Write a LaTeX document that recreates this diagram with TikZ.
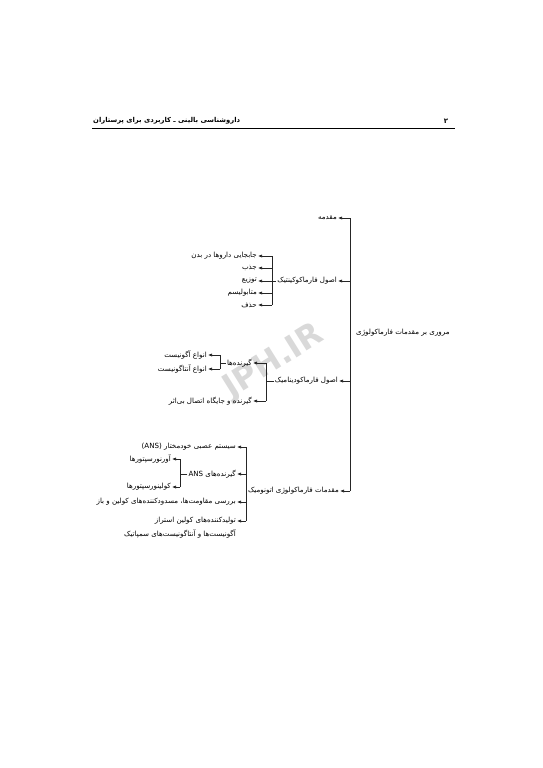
\documentclass[tikz,border=0pt]{standalone}
\usepackage{fontspec}
\usetikzlibrary{arrows.meta}
\newfontfamily\fa[Script=Arabic]{DejaVu Sans}
\newfontfamily\wmfont{DejaVu Sans}
\TeXXeTstate=1
\tikzset{
	lbl/.style={anchor=east, inner sep=1pt, font=\fa\fontsize{7.1}{8}\selectfont},
	tree/.style={line width=0.7pt, draw=black!85},
	arr/.style={tree, -{Latex[length=4pt,width=3.2pt]}},
}
\begin{document}
\begin{tikzpicture}[x=1pt,y=-1pt]
				\useasboundingbox (0,0) rectangle (543,768);
				\node[rotate=32, text=black!15, font=\wmfont\bfseries\fontsize{32}{32}\selectfont] (wm) at (274,362) {JPH.IR};
				\node[anchor=west, inner sep=0pt, font=\fa\bfseries\fontsize{6.8}{8}\selectfont] (head) at (93,121) {\beginR داروشناسی بالینی ـ کاربردی برای پرستاران\endR};
				\node[inner sep=0pt, font=\fa\bfseries\fontsize{7}{8}\selectfont] (page) at (446,121) {\beginR ۲\endR};
				\coordinate (rl) at (92,128);
				\coordinate (rr) at (455,128);
				\draw[line width=0.8pt] (rl) -- (rr);
				\coordinate (m1) at (350,218);
				\coordinate (m2) at (350,281);
				\coordinate (m3) at (350,381);
				\coordinate (m4) at (350,491);
				\coordinate (k0) at (272,281);
				\coordinate (k1) at (272,256);
				\coordinate (k2) at (272,268);
				\coordinate (k3) at (272,281);
				\coordinate (k4) at (272,293);
				\coordinate (k5) at (272,305);
				\coordinate (d0) at (266,381);
				\coordinate (d1) at (266,363);
				\coordinate (d2) at (266,401);
				\coordinate (r0) at (220,363);
				\coordinate (r1) at (220,355);
				\coordinate (r2) at (220,369);
				\coordinate (u0) at (246,491);
				\coordinate (u1) at (246,447);
				\coordinate (u2) at (246,474);
				\coordinate (u3) at (246,502);
				\coordinate (u4) at (246,521);
				\coordinate (s0) at (180,474);
				\coordinate (s1) at (180,459);
				\coordinate (s2) at (180,487);
				\node[lbl, anchor=west] (root) at (355,333) {\beginR مروری بر مقدمات فارماکولوژی\endR};
				\node[lbl] (intro) at (338,218) {\beginR مقدمه\endR};
				\node[lbl] (kin) at (338,281) {\beginR اصول فارماکوکینتیک\endR};
				\node[lbl] (dyn) at (339,381) {\beginR اصول فارماکودینامیک\endR};
				\node[lbl] (aut) at (340,491) {\beginR مقدمات فارماکولوژی اتونومیک\endR};
				\node[lbl] (kc1) at (258,256) {\beginR جابجایی داروها در بدن\endR};
				\node[lbl] (kc2) at (258,268) {\beginR جذب\endR};
				\node[lbl] (kc3) at (258,281) {\beginR توزیع\endR};
				\node[lbl] (kc4) at (258,293) {\beginR متابولیسم\endR};
				\node[lbl] (kc5) at (258,305) {\beginR حذف\endR};
				\node[lbl] (rec) at (253,363) {\beginR گیرنده‌ها\endR};
				\node[lbl] (spare) at (253,401) {\beginR گیرنده و جایگاه اتصال بی‌اثر\endR};
				\node[lbl] (ago) at (208,355) {\beginR انواع آگونیست\endR};
				\node[lbl] (anta) at (208,369) {\beginR انواع آنتاگونیست\endR};
				\node[lbl] (ans) at (237,447) {\beginR سیستم عصبی خودمختار \beginL(ANS)\endL\endR};
				\node[lbl] (ansr) at (237,474) {\beginR گیرنده‌های \beginL ANS\endL\endR};
				\node[lbl] (res) at (237,502) {\beginR بررسی مقاومت‌ها، مسدودکننده‌های کولین و باز\endR};
				\node[lbl] (chol) at (237,521) {\beginR تولیدکننده‌های کولین استراز\endR};
				\node[lbl] (symp) at (237,534) {\beginR آگونیست‌ها و آنتاگونیست‌های سمپاتیک\endR};
				\node[lbl] (adr) at (172,459) {\beginR آورنورسپتورها\endR};
				\node[lbl] (cho) at (172,487) {\beginR کولینورسپتورها\endR};
				\draw[tree] (m1) -- (m4);
				\draw[arr] (m1) -- (intro.east);
				\draw[arr] (m2) -- (kin.east);
				\draw[arr] (m3) -- (dyn.east);
				\draw[arr] (m4) -- (aut.east);
				\draw[tree] (kin.west) -- (k0);
				\draw[tree] (k1) -- (k5);
				\draw[arr] (k1) -- (kc1.east);
				\draw[arr] (k2) -- (kc2.east);
				\draw[arr] (k3) -- (kc3.east);
				\draw[arr] (k4) -- (kc4.east);
				\draw[arr] (k5) -- (kc5.east);
				\draw[tree] (dyn.west) -- (d0);
				\draw[tree] (d1) -- (d2);
				\draw[arr] (d1) -- (rec.east);
				\draw[arr] (d2) -- (spare.east);
				\draw[tree] (rec.west) -- (r0);
				\draw[tree] (r1) -- (r2);
				\draw[arr] (r1) -- (ago.east);
				\draw[arr] (r2) -- (anta.east);
				\draw[tree] (aut.west) -- (u0);
				\draw[tree] (u1) -- (u4);
				\draw[arr] (u1) -- (ans.east);
				\draw[arr] (u2) -- (ansr.east);
				\draw[arr] (u3) -- (res.east);
				\draw[arr] (u4) -- (chol.east);
				\draw[tree] (ansr.west) -- (s0);
				\draw[tree] (s1) -- (s2);
				\draw[arr] (s1) -- (adr.east);
				\draw[arr] (s2) -- (cho.east);
			\end{tikzpicture}
\end{document}
